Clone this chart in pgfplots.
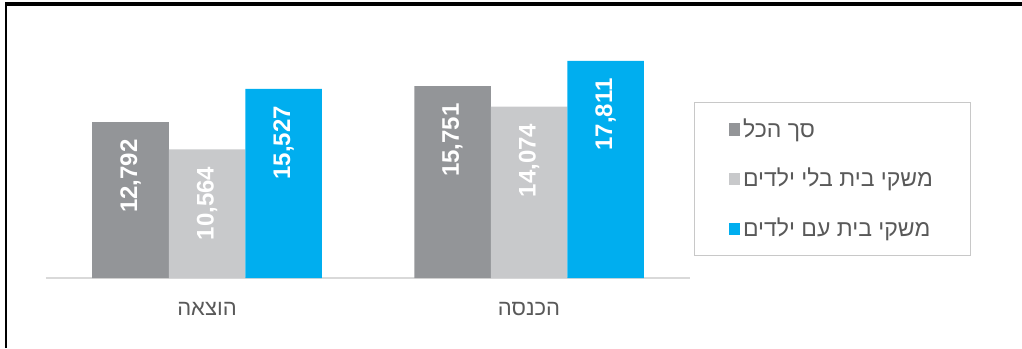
\documentclass[border=0pt]{standalone}
\usepackage{pgfplots}
\pgfplotsset{compat=1.18}
\usepackage{fontspec}
\setmainfont{Liberation Sans}
\newfontfamily\hebfont[Script=Hebrew]{Liberation Sans}
\TeXXeTstate=1
\definecolor{cAll}{HTML}{939598}
\definecolor{cNo}{HTML}{C8C9CB}
\definecolor{cKids}{HTML}{00AEEF}
\definecolor{lbl}{HTML}{595959}
\definecolor{axgray}{HTML}{D9D9D9}
\definecolor{leggray}{HTML}{C8C8C8}
\pgfplotsset{sqlegend/.style={legend image code/.code={\fill[##1] (0pt,-3.1pt) rectangle (5.5pt,3.1pt);}}}
\begin{document}
\begin{tikzpicture}
\useasboundingbox (0,0) rectangle (511pt,174pt);
\draw[line width=2pt] (2.5pt,172pt) -- (511pt,172pt);
\draw[line width=1pt] (3pt,0pt) -- (3pt,173pt);
\begin{axis}[
  at={(23pt,35pt)}, anchor=south west,
  scale only axis, width=322pt, height=121.84pt,
  ybar=0pt, bar width=38.25pt,
  xmin=-0.5, xmax=1.5, ymin=0, ymax=20000,
  axis x line*=bottom, axis y line=none,
  x axis line style={draw=axgray, line width=1pt, -},
  xtick={0,1},
  xticklabels={{\beginR הוצאה\endR},{\beginR הכנסה\endR}},
  major tick length=0pt,
  ytick=\empty,
  xticklabel style={font=\hebfont\fontsize{11}{13}\selectfont, text=lbl, yshift=-8.5pt},
  nodes near coords,
  /pgf/number format/.cd, 1000 sep={,}, assume math mode=true, /pgfplots/.cd,
  every node near coord/.append style={rotate=90, anchor=east, font=\bfseries\fontsize{12}{12}\selectfont, text=white, inner xsep=8.5pt, inner ysep=0pt},
  legend style={at={(rel axis cs:1.0062,0.7223)}, anchor=north west, draw=leggray, line width=0.6pt,
    font=\hebfont\fontsize{11.5}{13}\selectfont, text=lbl, inner xsep=17pt, inner ysep=6pt, row sep=10pt,
    nodes={inner xsep=1.75pt}},
  legend cell align=left,
]
\addplot[fill=cAll, draw=none, sqlegend] coordinates {(0,12792) (1,15751)};
\addplot[fill=cNo, draw=none, sqlegend] coordinates {(0,10564) (1,14074)};
\addplot[fill=cKids, draw=none, sqlegend] coordinates {(0,15527) (1,17811)};
\addlegendentry{\beginR סך הכל\endR}
\addlegendentry{\beginR משקי בית בלי ילדים\endR}
\addlegendentry{\beginR משקי בית עם ילדים\endR}
\end{axis}
\end{tikzpicture}
\end{document}
